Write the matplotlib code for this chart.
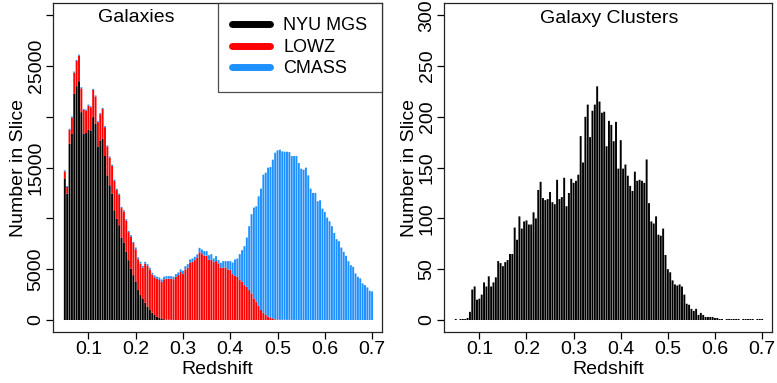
import numpy as np
import matplotlib
matplotlib.use("Agg")
import matplotlib.pyplot as plt
from matplotlib.lines import Line2D

plt.rcParams['font.family'] = ['Liberation Sans', 'DejaVu Sans']

# Redshift slices
z_start, z_stop, z_step = 0.05, 0.70, 0.005

# Galaxies: counts per slice for each survey
nyu = [13940, 12440, 17350, 18330, 22260, 23010, 23500, 20460, 18330, 18400,
       18730, 18660, 19970, 19310, 17090, 17680, 17840, 16140, 14240, 13260,
       12440, 10800, 9990, 9330, 8080, 7590, 6710, 5890, 5070, 4420,
       3760, 2950, 2455, 2130, 1700, 1310, 980, 720, 490, 330,
       200, 120, 70, 40, 20, 10, 5, 0, 0, 0] + [0] * 81

lowz = [690, 650, 1370, 1600, 2090, 2490, 2520, 2350, 2350, 2220,
        2380, 2280, 2680, 2690, 2380, 2580, 2940, 2840, 2850, 2740,
        2730, 2890, 2820, 2990, 2930, 3090, 3090, 2760, 3160, 3150,
        3200, 3030, 3095, 3020, 3850, 4010, 3980, 3750, 3720, 3750,
        3740, 3630, 3940, 4030, 4050, 4060, 4010, 4270, 4430, 4730,
        4520, 4970, 5170, 5630, 5730, 5890, 6120, 6650, 6490, 6330,
        6330, 5930, 5930, 5700, 5795, 5565, 5172, 5139, 5172, 4976,
        4910, 4517, 4353, 4255, 3928, 3764, 3437, 3273, 2946, 2619,
        2128, 1800, 1407, 982, 720, 491, 327, 262, 164, 65,
        40, 30, 25, 20, 15, 10, 10, 5, 5, 5] + [0] * 31

cmass = [100, 100, 100, 100, 100, 100, 100, 100, 100, 100,
         100, 100, 100, 100, 100, 100, 100, 100, 100, 100,
         120, 120, 120, 120, 120, 120, 120, 120, 120, 120,
         180, 180, 180, 180, 180, 180, 180, 180, 180, 180,
         250, 250, 250, 250, 250, 250, 250, 250, 250, 250,
         330, 330, 330, 330, 330, 330, 330, 450, 450, 450,
         450, 450, 550, 360, 490, 325, 458, 656, 623, 819,
         885, 1146, 1604, 1800, 2553, 3110, 3830, 4844, 6285, 7790,
         8936, 9395, 10770, 11947, 13585, 14010, 14665, 14796, 15614, 16400,
         16654, 16729, 16571, 16543, 16548, 16520, 16127, 16132, 16132, 15445,
         14894, 14796, 14992, 14239, 12929, 12504, 12504, 11686, 11784, 10966,
         10638, 10082, 9722, 9231, 8576, 7954, 7758, 7136, 6710, 6317,
         5794, 5401, 5237, 4583, 4255, 4092, 3601, 3437, 3208, 2881, 2815]

# Galaxy clusters per slice
clusters = [1, 0, 1, 1, 1, 2,
            8, 30, 33, 20, 21, 25, 37, 33, 43, 33, 37, 42, 58, 56, 53, 57, 59, 65, 65,
            91, 79, 102, 90, 97, 98, 94, 94, 106, 100, 128, 136, 120, 118, 119, 126, 116,
            114, 138, 119, 121, 140, 112, 125, 139, 135, 137, 143,
            181, 155, 200, 212, 180, 206, 212, 230,
            215, 204, 205, 171, 196, 192, 176, 195, 149, 177, 149, 153, 142, 132, 127,
            146, 137, 138, 137, 135, 158, 115, 97, 95, 102, 84, 83, 90,
            64, 50, 47, 39, 35, 34, 35, 33, 25, 16, 15, 11, 9, 11, 5, 7, 5, 3, 3, 3, 3, 2, 2,
            1, 1, 0, 1, 1, 1, 1, 1, 1, 0, 1, 1, 1, 1, 1, 0, 1, 1, 1]

series_names = ["NYU MGS", "LOWZ", "CMASS"]
series_colors = ["black", "#FF0000", "#1E90FF"]

x_ticks = [0.1, 0.2, 0.3, 0.4, 0.5, 0.6, 0.7]
gal_yticks = [0, 5000, 10000, 15000, 20000, 25000, 30000]
gal_ylabels = ["0", "5000", "", "15000", "", "25000", ""]
clu_yticks = [0, 50, 100, 150, 200, 250, 300]

z = np.arange(len(nyu)) * z_step + z_start
nyu = np.array(nyu, float)
lowz = np.array(lowz, float)
cmass = np.array(cmass, float)
clusters = np.array(clusters, float)

W, H = 777, 383
fig = plt.figure(figsize=(W / 100, H / 100), dpi=100)

ax_b, ax_h = 1 - 332.2 / H, 329.2 / H
ax1 = fig.add_axes([53 / W, ax_b, 329 / W, ax_h])
ax2 = fig.add_axes([444 / W, ax_b, 328 / W, ax_h])

bw = 0.0041
kw = dict(width=bw, linewidth=0, snap=False)
ax1.bar(z, nyu, color=series_colors[0], **kw)
ax1.bar(z, lowz, bottom=nyu, color=series_colors[1], **kw)
ax1.bar(z, cmass, bottom=nyu + lowz, color=series_colors[2], **kw)

ax2.bar(z, clusters, color="black", **kw)

fs = 14
for ax, yt, ylbl, ymax in [(ax1, gal_yticks, gal_ylabels, 30000),
                           (ax2, clu_yticks, [str(v) for v in clu_yticks], 300)]:
    ax.set_xlim(0.025, 0.721)
    ax.set_ylim(-0.04 * ymax, 1.04 * ymax)
    ax.set_xticks(x_ticks)
    ax.set_xticklabels([f"{v:.1f}" for v in x_ticks], fontsize=fs)
    ax.set_yticks(yt)
    ax.set_yticklabels(ylbl, fontsize=fs, rotation=90, va="center")
    ax.tick_params(direction="out", length=5, width=0.9, pad=1, colors="black")
    for s in ax.spines.values():
        s.set_linewidth(0.9)
        s.set_color("#222222")
    ax.set_xlabel("Redshift", fontsize=fs)
    ax.set_ylabel("Number in Slice", fontsize=fs)
    ax.xaxis.set_label_coords(0.5, -0.088)
    ax.yaxis.set_label_coords(-0.08, 0.5)

ax1.text(0.252, 0.955, "Galaxies", transform=ax1.transAxes, ha="center", va="center", fontsize=fs)
ax2.text(0.505, 0.953, "Galaxy Clusters", transform=ax2.transAxes, ha="center", va="center", fontsize=fs)

handles = [Line2D([0], [0], color=c, lw=5, solid_capstyle="round") for c in series_colors]
leg = ax1.legend(handles, series_names, loc="upper right", fontsize=13, frameon=True,
                 fancybox=False, edgecolor="#222222", borderaxespad=0, handlelength=2.1,
                 handletextpad=0.75, labelspacing=0.25, borderpad=0.8)
leg.get_frame().set_linewidth(0.9)

fig.savefig("out.png", dpi=100)
